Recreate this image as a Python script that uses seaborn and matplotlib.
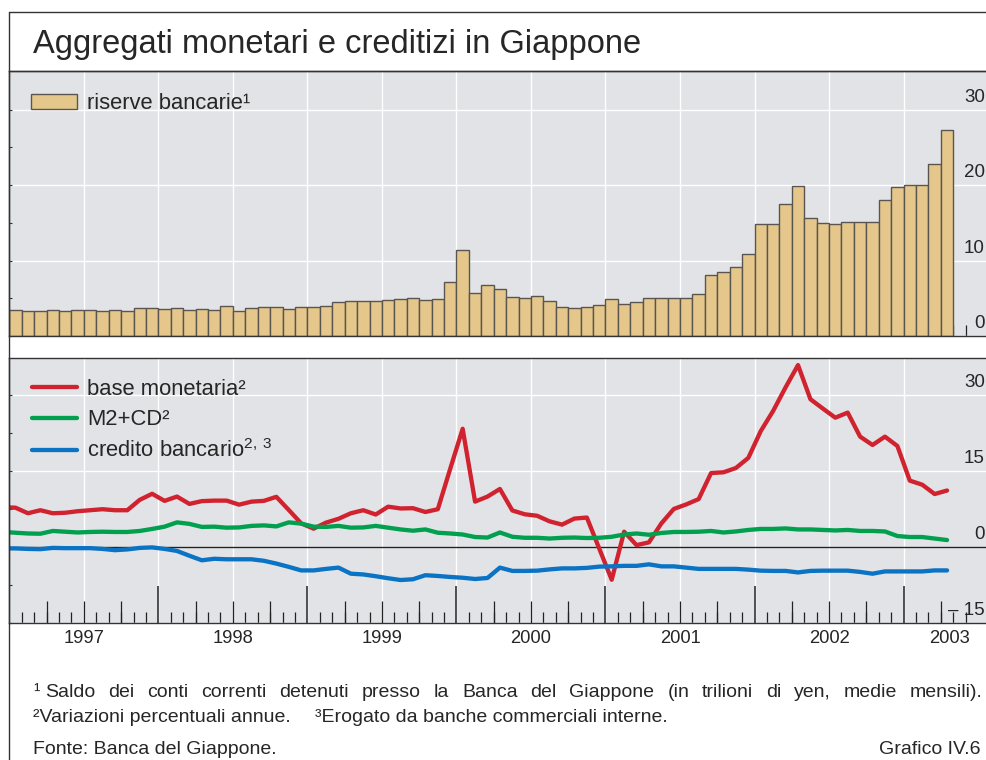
import numpy as np
import pandas as pd
import matplotlib
matplotlib.use('Agg')
import matplotlib.pyplot as plt
import matplotlib.transforms as mtransforms
from matplotlib.lines import Line2D
from matplotlib.patches import Patch
import seaborn as sns

sns.set_theme(style='darkgrid', rc={'axes.facecolor': '#e2e3e7', 'grid.color': 'white',
                                    'grid.linewidth': 1.0})
plt.rcParams['font.family'] = ['Liberation Sans', 'DejaVu Sans']
plt.rcParams['mathtext.fontset'] = 'custom'
plt.rcParams['mathtext.rm'] = 'Liberation Sans'

# riserve bancarie, gen 1997 - apr 2003 (trilioni di yen)
riserve = [3.4, 3.3, 3.3, 3.45, 3.3, 3.45, 3.45, 3.3, 3.5, 3.35, 3.7, 3.65,
           3.6, 3.65, 3.5, 3.55, 3.5, 3.95, 3.35, 3.7, 3.85, 3.85, 3.55, 3.9,
           3.8, 3.95, 4.45, 4.7, 4.7, 4.65, 4.75, 4.9, 5.0, 4.75, 4.85, 7.15,
           11.35, 5.65, 6.7, 6.25, 5.15, 5.0, 5.25, 4.7, 3.9, 3.75, 3.85, 4.15,
           4.95, 4.2, 4.5, 5.0, 5.0, 5.0, 5.0, 5.5, 8.05, 8.5, 9.15, 10.8,
           14.9, 14.9, 17.5, 19.9, 15.6, 15.0, 14.9, 15.05, 15.1, 15.15, 18.0, 19.7,
           20.05, 20.0, 22.75, 27.3]

# variazioni percentuali annue, dic 1996 - apr 2003
base_monetaria = [7.9,
                  7.8, 6.7, 7.3, 6.7, 6.8, 7.1, 7.3, 7.5, 7.3, 7.3, 9.35, 10.55,
                  9.15, 10.0, 8.55, 9.1, 9.2, 9.2, 8.4, 9.0, 9.15, 9.95, 7.35, 4.7,
                  3.65, 4.85, 5.6, 6.7, 7.3, 6.45, 8.0, 7.65, 7.7, 6.95, 7.5, 15.5,
                  23.4, 9.0, 10.0, 11.5, 7.25, 6.5, 6.2, 5.1, 4.45, 5.65, 5.85, -0.3,
                  -6.45, 3.05, 0.4, 0.95, 4.7, 7.55, 8.45, 9.5, 14.65, 14.8, 15.65, 17.65,
                  22.95, 26.95, 31.6, 36.0, 29.25, 27.4, 25.6, 26.6, 21.85, 20.2, 21.85, 20.0,
                  13.15, 12.35, 10.5, 11.2]
m2_cd = [3.0,
         2.85, 2.7, 2.65, 3.2, 3.05, 2.9, 3.0, 3.05, 3.0, 3.0, 3.2, 3.6,
         4.05, 4.9, 4.6, 4.0, 4.05, 3.85, 3.9, 4.2, 4.3, 4.1, 4.9, 4.65,
         4.05, 4.0, 4.2, 3.85, 3.9, 4.2, 3.85, 3.5, 3.25, 3.5, 2.85, 2.7,
         2.5, 2.0, 1.9, 2.9, 2.05, 1.85, 1.85, 1.7, 1.85, 1.9, 1.8, 1.85,
         2.05, 2.5, 2.7, 2.45, 2.8, 3.0, 3.0, 3.05, 3.2, 2.9, 3.1, 3.4,
         3.6, 3.6, 3.7, 3.5, 3.5, 3.4, 3.3, 3.4, 3.2, 3.2, 3.1, 2.2,
         2.0, 2.0, 1.7, 1.4]
credito = [-0.25,
           -0.25, -0.35, -0.4, -0.15, -0.2, -0.2, -0.2, -0.35, -0.6, -0.45, -0.15, -0.05,
           -0.35, -0.75, -1.7, -2.6, -2.3, -2.4, -2.4, -2.4, -2.7, -3.25, -3.9, -4.6,
           -4.6, -4.3, -4.05, -5.25, -5.4, -5.75, -6.15, -6.5, -6.35, -5.55, -5.7, -5.9,
           -6.05, -6.3, -6.1, -4.05, -4.7, -4.7, -4.65, -4.4, -4.2, -4.2, -4.1, -3.85,
           -3.8, -3.7, -3.7, -3.4, -3.8, -3.8, -4.05, -4.3, -4.3, -4.3, -4.3, -4.45,
           -4.65, -4.7, -4.7, -5.0, -4.7, -4.65, -4.65, -4.65, -4.9, -5.25, -4.8, -4.8,
           -4.8, -4.8, -4.6, -4.6]

anni = ['1997', '1998', '1999', '2000', '2001', '2002', '2003']
serie = ['base monetaria', 'M2+CD', 'credito bancario']
etichette = ['base monetaria²', 'M2+CD²', r'credito bancario$^{\mathrm{2,\,3}}$']
colori = {'base monetaria': '#d0222f', 'M2+CD': '#00a04f', 'credito bancario': '#0a73c4'}
col_barre = '#e5c78b'
col_testo = '#262626'

mesi_barre = pd.date_range('1997-01-01', periods=len(riserve), freq='MS')
mesi_linee = pd.date_range('1996-12-01', periods=len(base_monetaria), freq='MS')
t_barre = mesi_barre.year + (mesi_barre.month - 0.5) / 12
t_linee = mesi_linee.year + (mesi_linee.month - 0.5) / 12

df_barre = pd.DataFrame({'t': t_barre, 'riserve': riserve})
df_linee = pd.concat([
    pd.DataFrame({'t': t_linee, 'valore': v, 'serie': s})
    for s, v in zip(serie, [base_monetaria, m2_cd, credito])
])

W, H = 987, 760
fig = plt.figure(figsize=(W / 100, H / 100), dpi=100)
x_sx, x_dx = 9.3, 996
ax1 = fig.add_axes([x_sx / W, 1 - 336 / H, (x_dx - x_sx) / W, 265 / H])
ax2 = fig.add_axes([x_sx / W, 1 - 623 / H, (x_dx - x_sx) / W, 265 / H])
xmin, xmax = 1997.0, 2003.62

sns.barplot(data=df_barre, x='t', y='riserve', native_scale=True, width=1,
            color=col_barre, saturation=1, edgecolor='#5a5550', linewidth=1.0,
            errorbar=None, ax=ax1)
sns.lineplot(data=df_linee, x='t', y='valore', hue='serie', palette=colori,
             linewidth=3.1, legend=False, errorbar=None, ax=ax2)
ax2.axhline(0, color='#222222', lw=1.0, zorder=1.8)

inizio_mesi = 1997 + np.arange(1, 78) / 12
trimestri = [1997 + k / 4 for k in range(1, 26) if k % 4]
inizio_anni = [int(a) for a in anni[1:]]
x_etich = (985 - x_sx) / (x_dx - x_sx)

for ax, yl, ymaj, ymin_ in [(ax1, (0, 35.1), [0, 10, 20, 30], [5, 15, 25]),
                            (ax2, (-15, 37.4), [-15, 0, 15, 30], [-7.5, 7.5, 22.5])]:
    ax.set_xlim(xmin, xmax)
    ax.set_ylim(*yl)
    ax.set_xlabel('')
    ax.set_ylabel('')
    ax.set_xticks(np.arange(1997.0, 2003.01, 0.5))
    ax.set_xticks(inizio_mesi, minor=True)
    ax.set_yticks(ymaj)
    ax.set_yticks(ymin_, minor=True)
    ax.grid(True, which='major', color='white', lw=1.0)
    ax.grid(False, which='minor')
    ax.set_axisbelow(True)
    ax.tick_params(axis='x', which='major', length=0, labelbottom=False)
    ax.tick_params(axis='x', which='minor', bottom=True, direction='in',
                   length=7.9, width=0.9, color='#222222')
    ax.tick_params(axis='y', which='both', left=True, direction='in', length=2.5,
                   width=0.8, color='#333333', labelleft=False)
    for lato in ['left', 'top', 'bottom']:
        ax.spines[lato].set_visible(True)
        ax.spines[lato].set_color('#333333')
        ax.spines[lato].set_linewidth(1.0)
    ax.spines['right'].set_visible(False)
    off = mtransforms.ScaledTranslation(0, 8 / 100, fig.dpi_scale_trans)
    for v in ymaj:
        testo = f'– {abs(v)}' if v < 0 else str(v)
        ax.text(x_etich, v, testo, transform=ax.get_yaxis_transform() + off,
                ha='right', va='baseline', fontsize=13.5, color=col_testo, clip_on=False)

# tacche trimestrali e annuali nel pannello inferiore
ax2.vlines(trimestri, 0, 21.7 / 265, transform=ax2.get_xaxis_transform(),
           color='#222222', lw=0.9, zorder=2.6)
ax2.vlines(inizio_anni, 0, 36.7 / 265, transform=ax2.get_xaxis_transform(),
           color='#222222', lw=1.1, zorder=2.6)

# etichette degli anni
for a in anni:
    xa = int(a) + 0.5
    if xa > xmax - 0.25:
        xa = (int(a) + xmax) / 2
    ax2.text(xa, -20.3 / 265, a, transform=ax2.get_xaxis_transform(), ha='center',
             va='baseline', fontsize=13.2, color=col_testo)

# legende
fs_leg = 15.8
h1 = [Patch(facecolor=col_barre, edgecolor='#5a5550', lw=1.0)]
ax1.legend(h1, ['riserve bancarie¹'], loc='center left', bbox_to_anchor=(0.022, 0.876),
           frameon=False, fontsize=fs_leg, borderpad=0, borderaxespad=0,
           handlelength=2.1, handleheight=0.64, handletextpad=0.45)
h2 = [Line2D([], [], color=colori[s], lw=3.1) for s in serie]
ax2.legend(h2, etichette, loc='center left', bbox_to_anchor=(0.023, 0.763),
           frameon=False, fontsize=fs_leg, borderpad=0, borderaxespad=0,
           handlelength=2.05, handletextpad=0.45, labelspacing=0.42)

# cornice e titolo
for xs, ys in [([x_sx, x_sx], [11.7, H]), ([x_sx, W], [11.7, 11.7]), ([x_sx, W], [71, 71])]:
    fig.add_artist(Line2D([x / W for x in xs], [1 - y / H for y in ys],
                          color='#333333', lw=1.0, transform=fig.transFigure))
fig.text(33 / W, 1 - 53.3 / H, 'Aggregati monetari e creditizi in Giappone',
         fontsize=23.5, va='baseline', color=col_testo)

# note
fs_nota = 14
renderer = fig.canvas.get_renderer()


def riga_giustificata(x0, x1, y, testo):
    parole = testo.split(' ')
    larghezze = []
    for p in parole:
        tt = fig.text(0, 0, p, fontsize=fs_nota)
        larghezze.append(tt.get_window_extent(renderer).width)
        tt.remove()
    spazio = (x1 - x0 - sum(larghezze)) / (len(parole) - 1)
    x = x0
    for p, w in zip(parole, larghezze):
        fig.text(x / W, 1 - y / H, p, fontsize=fs_nota, va='baseline', color=col_testo)
        x += w + spazio


fig.text(33 / W, 1 - 697.3 / H, '¹', fontsize=fs_nota, va='baseline', color=col_testo)
riga_giustificata(45, 983, 697.3,
                  'Saldo dei conti correnti detenuti presso la Banca del Giappone '
                  '(in trilioni di yen, medie mensili).')
fig.text(33 / W, 1 - 722.3 / H, '²Variazioni percentuali annue.', fontsize=fs_nota,
         va='baseline', color=col_testo)
fig.text(315 / W, 1 - 722.3 / H, '³Erogato da banche commerciali interne.', fontsize=fs_nota,
         va='baseline', color=col_testo)
fig.text(33 / W, 1 - 754.3 / H, 'Fonte: Banca del Giappone.', fontsize=fs_nota,
         va='baseline', color=col_testo)
fig.text(981 / W, 1 - 754.3 / H, 'Grafico IV.6', fontsize=fs_nota, ha='right',
         va='baseline', color=col_testo)

fig.savefig('out.png', dpi=100, facecolor='white')
